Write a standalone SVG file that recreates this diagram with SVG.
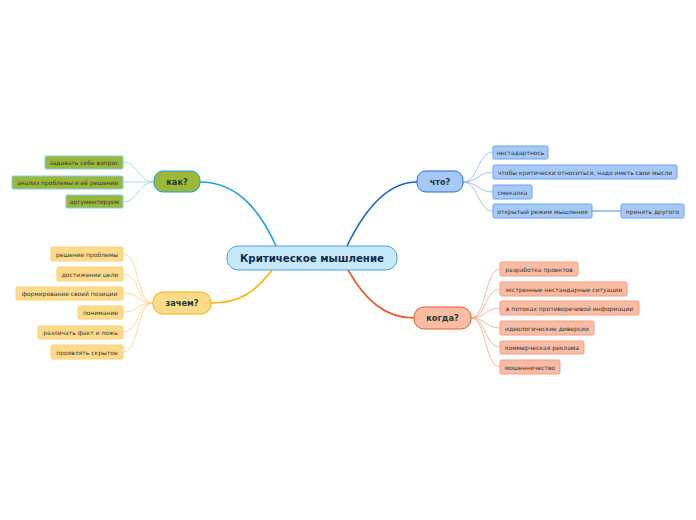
<svg xmlns="http://www.w3.org/2000/svg" width="696" height="520" viewBox="0 0 696 520">
<style>
text{font-family:"DejaVu Sans","Liberation Sans",sans-serif;}
.t{font-size:6px;fill:#333;text-anchor:middle;dominant-baseline:central;}
.m{font-size:8.2px;font-weight:bold;fill:#1b3b2f;text-anchor:middle;dominant-baseline:central;}
.c{font-size:10.2px;font-weight:bold;fill:#12294f;text-anchor:middle;dominant-baseline:central;}
.kg{fill:#9cb83a;stroke:#7fcdee;stroke-width:1;}
.bl{fill:#a7c9f7;stroke:#6aa3ec;stroke-width:1;}
.yl{fill:#fedb8b;stroke:#fcd17a;stroke-width:1;}
.or{fill:#fbbca4;stroke:#f69d85;stroke-width:1;}
.lk{fill:none;stroke:#8fd4f2;stroke-width:0.8;}
.lb{fill:none;stroke:#8db6f0;stroke-width:0.8;}
.ly{fill:none;stroke:#fdd27f;stroke-width:0.8;}
.lo{fill:none;stroke:#f7a58c;stroke-width:0.8;}
</style>
<rect width="696" height="520" fill="#ffffff"/>
<g id="connectors">
<path d="M276,246 C262,215 240,182 200,182" fill="none" stroke="#1aa0e2" stroke-width="1.6"/>
<path d="M347,246 C362,215 385,182 417,182" fill="none" stroke="#1660d4" stroke-width="1.6"/>
<path d="M272,270 C255,292 240,303 211,303" fill="none" stroke="#ffb200" stroke-width="1.6"/>
<path d="M348,270 C365,300 385,318 414,318" fill="none" stroke="#f0582a" stroke-width="1.6"/>
<path class="lk" d="M154,182 C138,182 138,162 123,162"/>
<path class="lk" d="M154,182 L123,182"/>
<path class="lk" d="M154,182 C138,182 138,202 123,202"/>
<path class="lb" d="M463,182 C478,182 478,152 493,152"/>
<path class="lb" d="M463,182 C478,182 478,172 493,172"/>
<path class="lb" d="M463,182 C478,182 478,192 493,192"/>
<path class="lb" d="M463,182 C478,182 478,211 493,211"/>
<path d="M592,211 L621,211" fill="none" stroke="#8db6f0" stroke-width="1.6"/>
<path class="ly" d="M153,303 C136,303 140,254 123,254"/>
<path class="ly" d="M153,303 C136,303 140,274 123,274"/>
<path class="ly" d="M153,303 C136,303 140,293 123,293"/>
<path class="ly" d="M153,303 C136,303 140,312 123,312"/>
<path class="ly" d="M153,303 C136,303 140,332 123,332"/>
<path class="ly" d="M153,303 C136,303 140,352 123,352"/>
<path class="lo" d="M471,318 C486,318 485,269 500,269"/>
<path class="lo" d="M471,318 C486,318 485,289 500,289"/>
<path class="lo" d="M471,318 C486,318 485,308 500,308"/>
<path class="lo" d="M471,318 C486,318 485,328 500,328"/>
<path class="lo" d="M471,318 C486,318 485,347 500,347"/>
<path class="lo" d="M471,318 C486,318 485,367 500,367"/>
</g>
<g id="central"><rect x="227" y="246" width="170" height="24" rx="11" fill="#c6e9fa" stroke="#4b9fdc" stroke-width="1"/><text class="c" x="312" y="258">Критическое мышление</text></g>
<g id="kak"><rect x="154" y="171" width="46" height="21" rx="9" fill="#9cb83a" stroke="#1aa0e2" stroke-width="1"/><text class="m" x="177" y="181.5">как?</text></g>
<g id="kak1"><rect class="kg" x="45" y="156" width="78" height="13" rx="1.5"/><text class="t" x="84" y="162.5">задавать себе вопрос</text></g>
<g id="kak2"><rect class="kg" x="12" y="176" width="111" height="13" rx="1.5"/><text class="t" x="67.5" y="182.5">анализ проблемы и её решение</text></g>
<g id="kak3"><rect class="kg" x="66" y="195" width="57" height="13" rx="1.5"/><text class="t" x="94.5" y="201.5">аргументируем</text></g>
<g id="chto"><rect x="417" y="171" width="46" height="21" rx="9" fill="#a7c9f7" stroke="#1f6fd2" stroke-width="1"/><text class="m" x="440" y="181.5">что?</text></g>
<g id="chto1"><rect class="bl" x="493" y="146" width="55" height="13" rx="1.5"/><text class="t" x="520.5" y="152.5">нестадартнось</text></g>
<g id="chto2"><rect class="bl" x="493" y="165" width="184" height="14" rx="1.5"/><text class="t" x="585" y="172">чтобы критически относиться, надо иметь свои мысли</text></g>
<g id="chto3"><rect class="bl" x="493" y="185" width="39" height="14" rx="1.5"/><text class="t" x="512.5" y="192">смекалка</text></g>
<g id="chto4"><rect class="bl" x="493" y="204" width="99" height="14" rx="1.5"/><text class="t" x="542.5" y="211">открытый режим мышления</text></g>
<g id="chto4a"><rect class="bl" x="621" y="204" width="63" height="14" rx="1.5"/><text class="t" x="652.5" y="211">принять другого</text></g>
<g id="zachem"><rect x="153" y="292" width="58" height="22" rx="10" fill="#fedb8b" stroke="#f5b400" stroke-width="1"/><text class="m" x="182" y="303">зачем?</text></g>
<g id="z1"><rect class="yl" x="51" y="247" width="72" height="14" rx="1.5"/><text class="t" x="87" y="254">решение проблемы</text></g>
<g id="z2"><rect class="yl" x="57" y="267" width="66" height="14" rx="1.5"/><text class="t" x="90" y="274">достижение цели</text></g>
<g id="z3"><rect class="yl" x="16" y="287" width="107" height="13" rx="1.5"/><text class="t" x="69.5" y="293.5">формирование своей позиции</text></g>
<g id="z4"><rect class="yl" x="78" y="306" width="45" height="13" rx="1.5"/><text class="t" x="100.5" y="312.5">понимание</text></g>
<g id="z5"><rect class="yl" x="38" y="326" width="85" height="13" rx="1.5"/><text class="t" x="80.5" y="332.5">различать факт и ложь</text></g>
<g id="z6"><rect class="yl" x="51" y="345" width="72" height="14" rx="1.5"/><text class="t" x="87" y="352">проявлять скрытое</text></g>
<g id="kogda"><rect x="414" y="307" width="57" height="22" rx="10" fill="#fbbca4" stroke="#f0582a" stroke-width="1"/><text class="m" x="442.5" y="318">когда?</text></g>
<g id="k1"><rect class="or" x="500" y="262" width="78" height="14" rx="1.5"/><text class="t" x="539" y="269">разработка проектов</text></g>
<g id="k2"><rect class="or" x="500" y="282" width="127" height="14" rx="1.5"/><text class="t" x="563.5" y="289">экстренные нестандарные ситуации</text></g>
<g id="k3"><rect class="or" x="500" y="301" width="139" height="14" rx="1.5"/><text class="t" x="569.5" y="308">в потоках противоречивой информации</text></g>
<g id="k4"><rect class="or" x="500" y="321" width="94" height="14" rx="1.5"/><text class="t" x="547" y="328">идеологические диверсии</text></g>
<g id="k5"><rect class="or" x="500" y="341" width="84" height="13" rx="1.5"/><text class="t" x="542" y="347.5">коммерческая реклама</text></g>
<g id="k6"><rect class="or" x="500" y="360" width="60" height="14" rx="1.5"/><text class="t" x="530" y="367">мошенничество</text></g>
</svg>
